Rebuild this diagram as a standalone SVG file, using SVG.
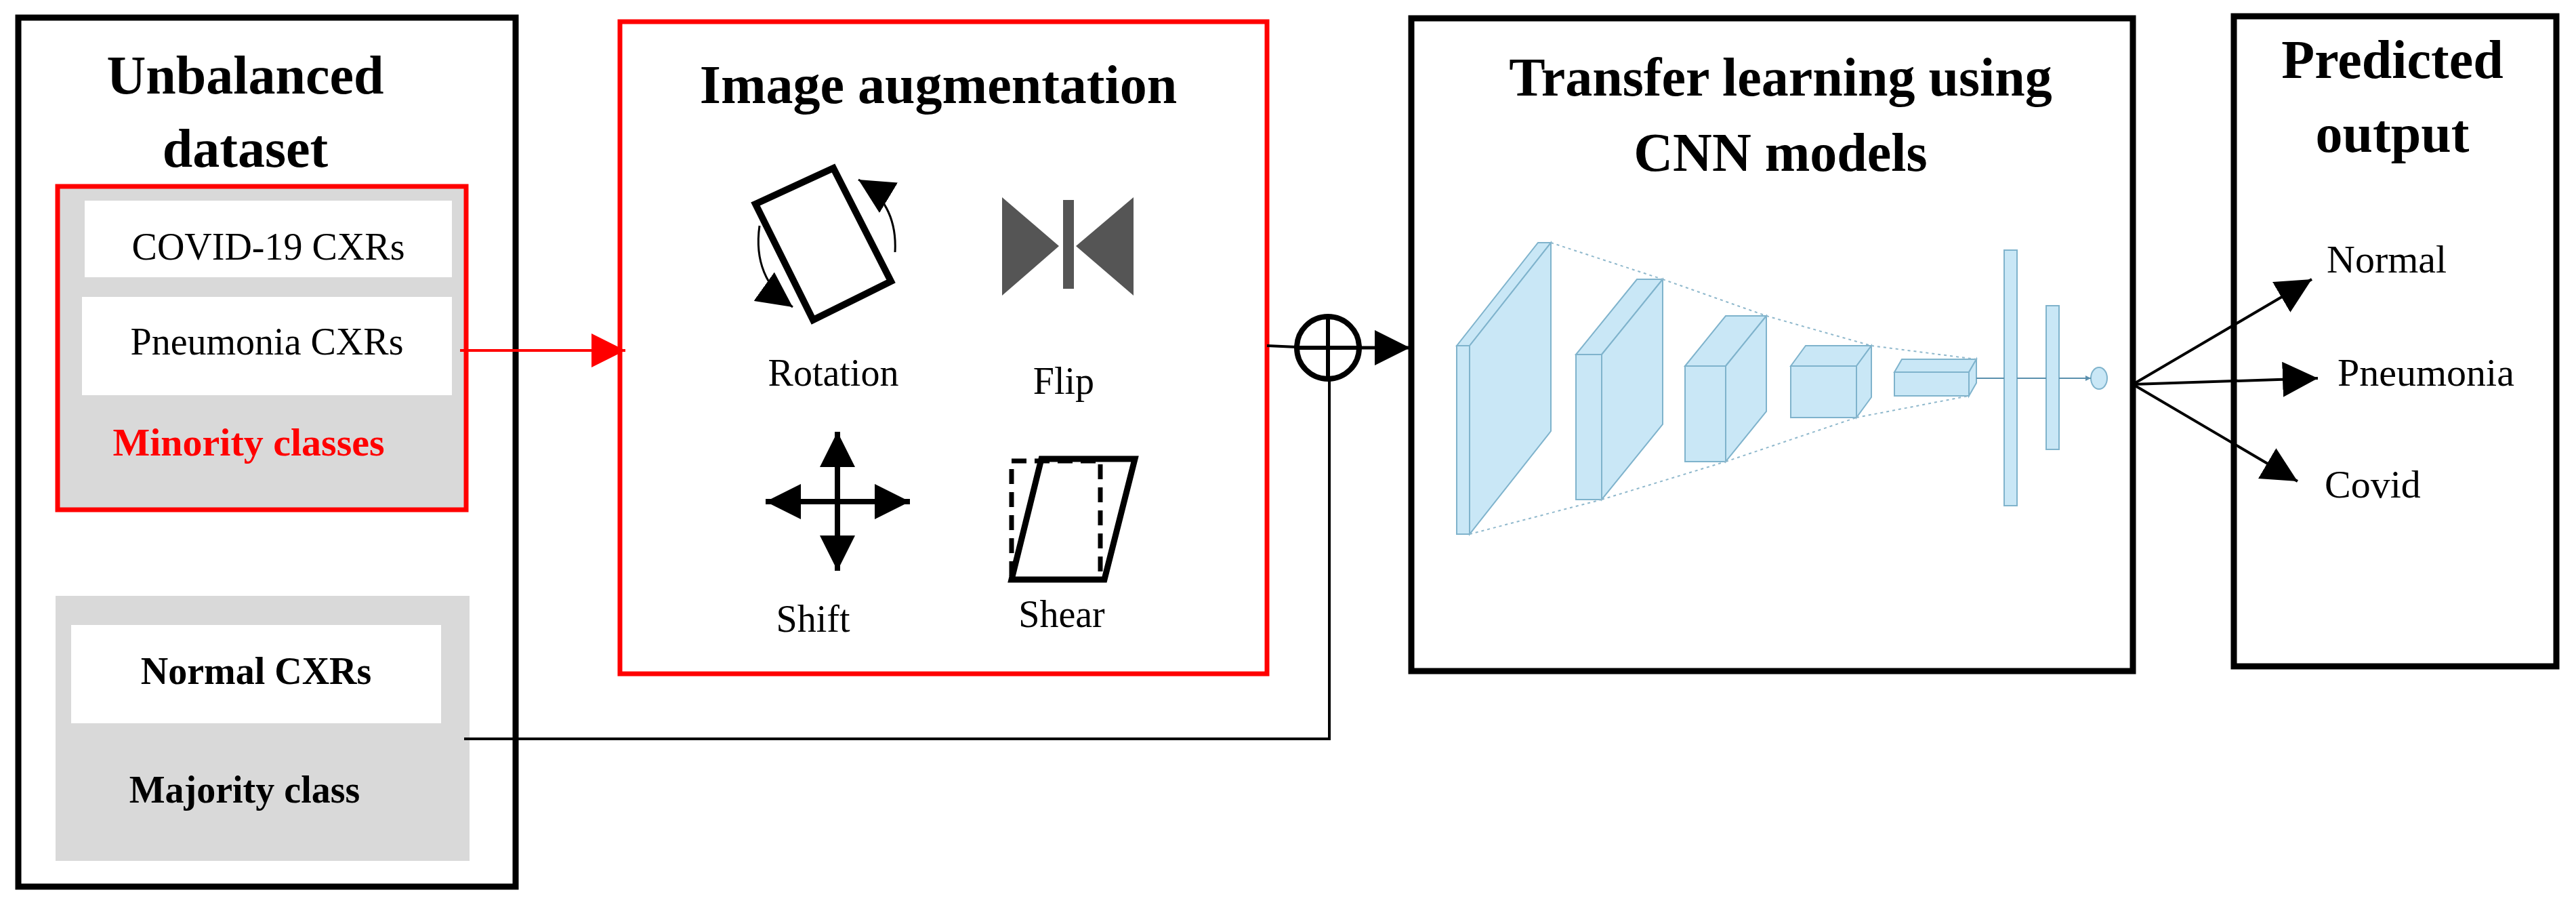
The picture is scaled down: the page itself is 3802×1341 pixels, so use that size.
<svg xmlns="http://www.w3.org/2000/svg" width="3802" height="1341" viewBox="0 0 3802 1341">
<style>
.t{font-family:"Liberation Serif",serif;fill:#000}
.b{font-weight:bold}
.box{fill:none;stroke:#000;stroke-width:9}
.cn{fill:#c9e7f6;stroke:#7fb3cc;stroke-width:2}
.dot{stroke:#8fb8cc;stroke-width:2;stroke-dasharray:4 5;fill:none}
</style>
<defs>
<marker id="ah" viewBox="0 0 10 10" refX="10" refY="5" markerWidth="10" markerHeight="10" markerUnits="userSpaceOnUse" orient="auto">
<path d="M0,0L10,5L0,10z" fill="#000"/></marker>
<marker id="ahb" viewBox="0 0 10 10" refX="10" refY="5" markerWidth="52" markerHeight="52" markerUnits="userSpaceOnUse" orient="auto">
<path d="M0,0L10,5L0,10z" fill="#000"/></marker>
<marker id="ahr" viewBox="0 0 10 10" refX="10" refY="5" markerWidth="50" markerHeight="50" markerUnits="userSpaceOnUse" orient="auto">
<path d="M0,0L10,5L0,10z" fill="#f00"/></marker>
<marker id="ahs" viewBox="0 0 10 10" refX="10" refY="5" markerWidth="8" markerHeight="8" markerUnits="userSpaceOnUse" orient="auto">
<path d="M0,0L10,5L0,10z" fill="#5a8fad"/></marker>
</defs>
<rect width="3802" height="1341" fill="#fff"/>

<g id="dataset">
<rect class="box" x="27" y="26" width="734" height="1282"/>
<text class="t b" x="362" y="138" font-size="80" text-anchor="middle">Unbalanced</text>
<text class="t b" x="362" y="246" font-size="80" text-anchor="middle">dataset</text>
</g>
<g id="minority">
<rect x="85" y="275" width="603" height="477" fill="#d9d9d9" stroke="#f00" stroke-width="7"/>
<rect x="125" y="296" width="542" height="113" fill="#fff"/>
<text class="t" x="396" y="383" font-size="56" text-anchor="middle">COVID-19 CXRs</text>
<rect x="121" y="438" width="546" height="145" fill="#fff"/>
<text class="t" x="394" y="523" font-size="56" text-anchor="middle">Pneumonia CXRs</text>
<text class="t b" x="367" y="672" font-size="58" text-anchor="middle" style="fill:#f00">Minority classes</text>
</g>
<g id="majority">
<rect x="82" y="879" width="611" height="391" fill="#d9d9d9"/>
<rect x="105" y="922" width="546" height="145" fill="#fff"/>
<text class="t b" x="378" y="1009" font-size="56" text-anchor="middle">Normal CXRs</text>
<text class="t b" x="361" y="1184" font-size="56" text-anchor="middle">Majority class</text>
</g>

<g id="augmentation">
<rect x="915" y="32" width="955" height="962" fill="none" stroke="#f00" stroke-width="7"/>
<text class="t b" x="1385" y="152" font-size="80" text-anchor="middle">Image augmentation</text>
<polygon points="1115,301 1230,248 1315,415 1200,472" fill="none" stroke="#000" stroke-width="10"/>
<path d="M1321,372 Q1325,300 1267,265" fill="none" stroke="#000" stroke-width="3" marker-end="url(#ahb)"/>
<path d="M1121,333 Q1110,410 1170,453" fill="none" stroke="#000" stroke-width="3" marker-end="url(#ahb)"/>
<text class="t" x="1230" y="569" font-size="56" text-anchor="middle">Rotation</text>
<polygon points="1479,291 1479,436 1563,363" fill="#555"/>
<polygon points="1673,291 1673,436 1588,363" fill="#555"/>
<rect x="1569" y="295" width="16" height="131" fill="#555"/>
<text class="t" x="1570" y="581" font-size="56" text-anchor="middle">Flip</text>
<line x1="1236" y1="740" x2="1236" y2="637" stroke="#000" stroke-width="8" marker-end="url(#ahb)"/>
<line x1="1236" y1="740" x2="1236" y2="842" stroke="#000" stroke-width="8" marker-end="url(#ahb)"/>
<line x1="1236" y1="740" x2="1130" y2="740" stroke="#000" stroke-width="8" marker-end="url(#ahb)"/>
<line x1="1236" y1="740" x2="1343" y2="740" stroke="#000" stroke-width="8" marker-end="url(#ahb)"/>
<text class="t" x="1200" y="932" font-size="56" text-anchor="middle">Shift</text>
<rect x="1493" y="680" width="131" height="175" fill="none" stroke="#000" stroke-width="7" stroke-dasharray="22 12"/>
<polygon points="1537,677 1675,677 1630,855 1493,855" fill="none" stroke="#000" stroke-width="9"/>
<text class="t" x="1567" y="925" font-size="56" text-anchor="middle">Shear</text>
</g>

<g id="transfer">
<rect class="box" x="2083" y="27" width="1065" height="963"/>
<text class="t b" x="2628" y="141" font-size="80" text-anchor="middle">Transfer learning using</text>
<text class="t b" x="2628" y="252" font-size="80" text-anchor="middle">CNN models</text>
<g>
<polygon class="cn" points="2150,510 2270,358 2289,358 2169,510"/>
<polygon class="cn" points="2169,510 2289,358 2289,636 2169,788"/>
<rect class="cn" x="2150" y="510" width="19" height="278"/>
<polygon class="cn" points="2326,523 2416,412 2454,412 2364,523"/>
<polygon class="cn" points="2364,523 2454,412 2454,626 2364,737"/>
<rect class="cn" x="2326" y="523" width="38" height="214"/>
<polygon class="cn" points="2487,540 2547,466 2607,466 2547,540"/>
<polygon class="cn" points="2547,540 2607,466 2607,607 2547,681"/>
<rect class="cn" x="2487" y="540" width="60" height="141"/>
<polygon class="cn" points="2643,540 2665,510 2762,510 2740,540"/>
<polygon class="cn" points="2740,540 2762,510 2762,586 2740,616"/>
<rect class="cn" x="2643" y="540" width="97" height="76"/>
<polygon class="cn" points="2796,549 2807,530 2917,530 2906,549"/>
<polygon class="cn" points="2906,549 2917,530 2917,565 2906,584"/>
<rect class="cn" x="2796" y="549" width="110" height="35"/>
<path class="dot" d="M2289,358L2454,412M2169,788L2364,737M2454,412L2607,466M2364,737L2547,681M2607,466L2762,510M2547,681L2740,616M2762,510L2917,530M2740,616L2906,584"/>
<rect class="cn" x="2958" y="369" width="19" height="377"/>
<rect class="cn" x="3020" y="451" width="19" height="212"/>
<ellipse class="cn" cx="3098" cy="558" rx="12" ry="16"/>
<path d="M2917,558H2958M2977,558H3020M3039,558H3086" stroke="#5a8fad" stroke-width="2" fill="none" marker-end="url(#ahs)"/>
</g>
</g>

<g id="predicted">
<rect class="box" x="3297" y="24" width="476" height="959"/>
<text class="t b" x="3531" y="115" font-size="80" text-anchor="middle">Predicted</text>
<text class="t b" x="3531" y="224" font-size="80" text-anchor="middle">output</text>
<text class="t" x="3434" y="402" font-size="58">Normal</text>
<text class="t" x="3450" y="569" font-size="58">Pneumonia</text>
<text class="t" x="3431" y="734" font-size="58">Covid</text>
</g>

<g id="sum">
<circle cx="1960" cy="513" r="46" fill="#fff" stroke="#000" stroke-width="8"/>
<path d="M1914,513H2006M1960,467V559" stroke="#000" stroke-width="6"/>
</g>

<g id="connectors" fill="none">
<line x1="679" y1="517" x2="923" y2="517" stroke="#f00" stroke-width="4" marker-end="url(#ahr)"/>
<line x1="1870" y1="510" x2="1914" y2="512" stroke="#000" stroke-width="4"/>
<line x1="2006" y1="513" x2="2081" y2="513" stroke="#000" stroke-width="5" marker-end="url(#ahb)"/>
<polyline points="685,1090 1962,1090 1962,559" stroke="#000" stroke-width="4"/>
<line x1="3148" y1="567" x2="3412" y2="412" stroke="#000" stroke-width="4" marker-end="url(#ahb)"/>
<line x1="3148" y1="567" x2="3421" y2="558" stroke="#000" stroke-width="4" marker-end="url(#ahb)"/>
<line x1="3148" y1="567" x2="3391" y2="710" stroke="#000" stroke-width="4" marker-end="url(#ahb)"/>
</g>
</svg>
